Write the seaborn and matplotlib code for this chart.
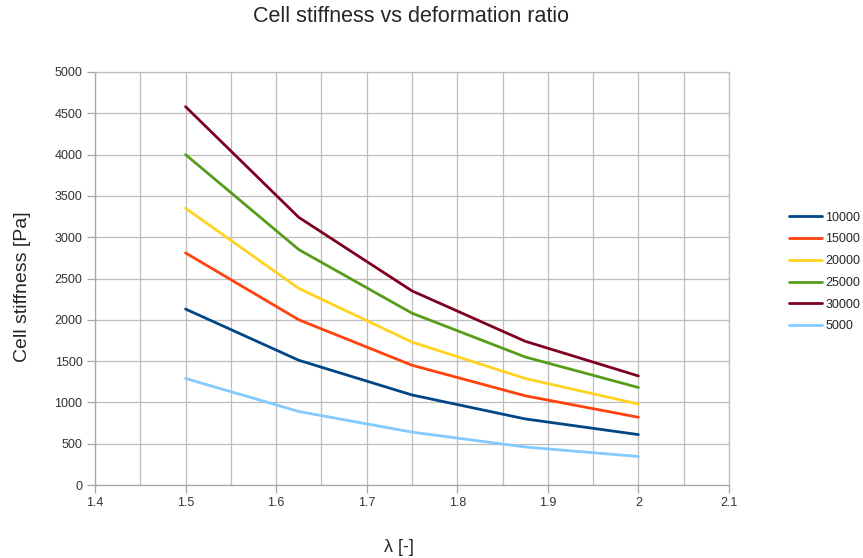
import matplotlib
matplotlib.use("Agg")
import matplotlib.pyplot as plt
import seaborn as sns
import pandas as pd
from matplotlib.ticker import MultipleLocator

lam = [1.5, 1.625, 1.75, 1.875, 2.0]
series_names = ["10000", "15000", "20000", "25000", "30000", "5000"]
s10000 = [2130, 1510, 1090, 800, 610]
s15000 = [2810, 2000, 1450, 1080, 820]
s20000 = [3350, 2380, 1730, 1290, 980]
s25000 = [4000, 2850, 2080, 1550, 1180]
s30000 = [4580, 3240, 2350, 1740, 1320]
s5000 = [1290, 890, 640, 460, 345]
colors = ["#004586", "#ff420e", "#ffd320", "#579d1c", "#7e0021", "#83caff"]
xtick_labels = ["1.4", "1.5", "1.6", "1.7", "1.8", "1.9", "2", "2.1"]

values = [s10000, s15000, s20000, s25000, s30000, s5000]
rows = []
for name, vals in zip(series_names, values):
    for x, v in zip(lam, vals):
        rows.append({"lambda": x, "stiffness": v, "series": name})
df = pd.DataFrame(rows)

sns.set_theme(style="white")
plt.rcParams["font.family"] = ["Liberation Sans", "DejaVu Sans"]

fig = plt.figure(figsize=(8.63, 5.58), dpi=100)
ax = fig.add_axes([95/863, 1-485/558, (729-95)/863, (485-72)/558])

sns.lineplot(data=df, x="lambda", y="stiffness", hue="series",
             hue_order=series_names, palette=colors, linewidth=2.0,
             ax=ax, legend=True)

grid_c = "#bdbdbd"
ax.set_xlim(1.4, 2.1)
ax.set_ylim(0, 5000)
ax.xaxis.set_minor_locator(MultipleLocator(0.05))
ax.yaxis.set_major_locator(MultipleLocator(500))
ax.set_xticks([1.4, 1.5, 1.6, 1.7, 1.8, 1.9, 2.0, 2.1])
ax.set_xticklabels(xtick_labels)
ax.grid(True, which="both", axis="x", color=grid_c, linewidth=0.9)
ax.grid(True, which="major", axis="y", color=grid_c, linewidth=0.9)
ax.set_axisbelow(True)
ax.tick_params(axis="both", which="major", direction="out", length=6,
               color="#a6a6a6", width=0.9, labelsize=9, labelcolor="#333333",
               bottom=True, left=True, pad=3)
ax.tick_params(axis="x", which="minor", length=0)
for side in ["top", "right"]:
    ax.spines[side].set_color(grid_c)
    ax.spines[side].set_linewidth(0.9)
for side in ["left", "bottom"]:
    ax.spines[side].set_color("#a6a6a6")
    ax.spines[side].set_linewidth(0.9)

ax.set_xlabel("λ [-]", fontsize=13)
ax.xaxis.label.set_verticalalignment("center")
ax.xaxis.set_label_coords((399-95)/634, (485-547)/413)
ax.set_ylabel("Cell stiffness [Pa]", fontsize=14)
ax.yaxis.label.set_verticalalignment("center")
ax.yaxis.set_label_coords((23-95)/634, (485-287)/413)
fig.text(411/863, 1-22/558, "Cell stiffness vs deformation ratio",
         ha="center", va="baseline", fontsize=15.5)

leg = ax.legend(loc="center left", bbox_to_anchor=((784-95)/634, (485-272)/413),
                frameon=False, fontsize=9, handlelength=2.6, labelspacing=0.78,
                handletextpad=0.3, borderaxespad=0)
for line in leg.get_lines():
    line.set_linewidth(2.0)

fig.savefig("out.png", dpi=100)
